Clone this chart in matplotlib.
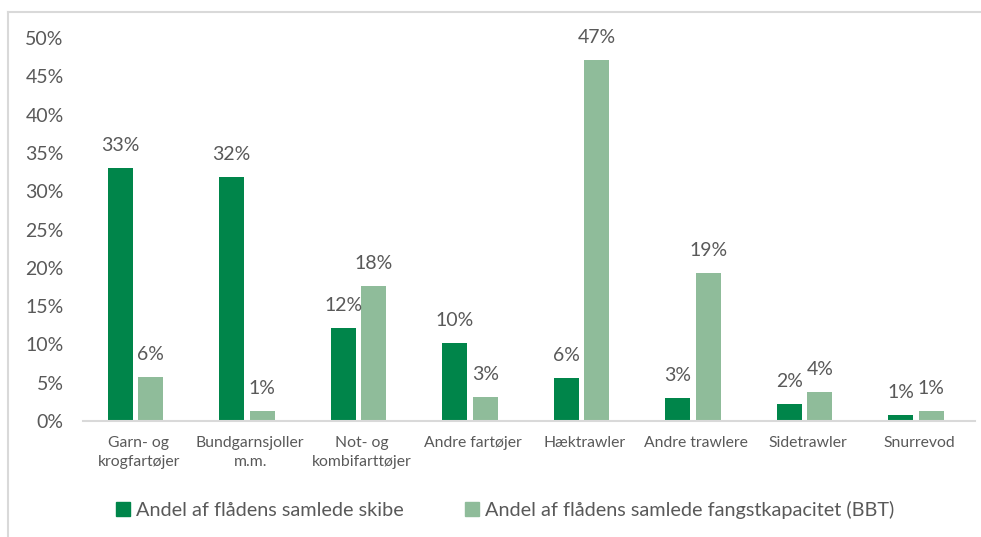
import numpy as np
import matplotlib.pyplot as plt
from matplotlib.lines import Line2D
from matplotlib.ticker import PercentFormatter

plt.rcParams['font.family'] = ['Lato', 'DejaVu Sans']

# Fartøjsgrupper og andele (i procent)
categories = ['Garn- og\nkrogfartøjer', 'Bundgarnsjoller\nm.m.', 'Not- og\nkombifarttøjer',
              'Andre fartøjer', 'Hæktrawler', 'Andre trawlere', 'Sidetrawler', 'Snurrevod']
skibe = [33.0, 31.9, 12.1, 10.2, 5.6, 3.0, 2.2, 0.8]
fangstkapacitet = [5.7, 1.3, 17.6, 3.1, 47.1, 19.3, 3.8, 1.3]
series_names = ['Andel af flådens samlede skibe',
                'Andel af flådens samlede fangstkapacitet (BBT)']

dark = '#00854A'
light = '#8FBC9A'
grey = '#595959'

fig = plt.figure(figsize=(9.81, 5.37), dpi=100)
ax = fig.add_axes([0.0846, 0.216, 0.9093, 0.713])

x = np.arange(len(categories))
w = 0.225
gap = 0.05
b1 = ax.bar(x - w / 2 - gap / 2 - 0.03, skibe, w, color=dark, label=series_names[0])
b2 = ax.bar(x + w / 2 + gap / 2 - 0.03, fangstkapacitet, w, color=light, label=series_names[1])

for bars, vals in ((b1, skibe), (b2, fangstkapacitet)):
    for rect, v in zip(bars, vals):
        ax.annotate(f'{v:.0f}%', (rect.get_x() + rect.get_width() / 2, v),
                    xytext=(0, 10), textcoords='offset points',
                    ha='center', va='bottom', fontsize=14, color=grey)

ax.set_xlim(-0.5, len(categories) - 0.5)
ax.set_ylim(0, 50)
ax.set_yticks(np.arange(0, 51, 5))
ax.yaxis.set_major_formatter(PercentFormatter(decimals=0))
ax.set_xticks(x)
ax.set_xticklabels(categories, fontsize=11.3, color=grey, linespacing=1.45)
ax.tick_params(axis='y', length=0, labelsize=14, labelcolor=grey, pad=14)
ax.tick_params(axis='x', length=0, pad=11)

for side in ('top', 'right', 'left'):
    ax.spines[side].set_visible(False)
ax.spines['bottom'].set_color('#D9D9D9')
ax.spines['bottom'].set_linewidth(1.5)

handles = [plt.Rectangle((0, 0), 1, 1, color=dark), plt.Rectangle((0, 0), 1, 1, color=light)]
fig.legend(handles, series_names, loc='center', bbox_to_anchor=(0.515, 0.05), ncol=2,
           frameon=False, fontsize=14.3, labelcolor=grey, handlelength=0.7,
           handleheight=0.7, handletextpad=0.3, columnspacing=3.1)

# Ydre ramme (top og venstre side)
fig.add_artist(Line2D([8 / 981, 1.0], [1 - 12 / 537, 1 - 12 / 537], transform=fig.transFigure,
                      color='#D9D9D9', lw=1.5))
fig.add_artist(Line2D([8 / 981, 8 / 981], [0.0, 1 - 12 / 537], transform=fig.transFigure,
                      color='#D9D9D9', lw=1.5))

fig.savefig('out.png', dpi=100)
